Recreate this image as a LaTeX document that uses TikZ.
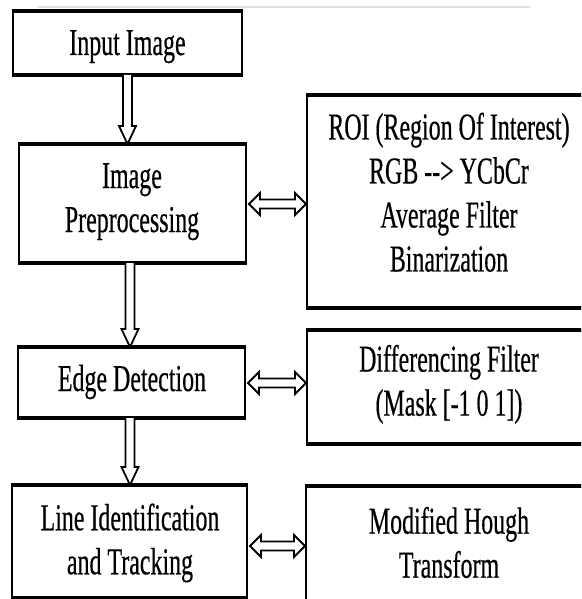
\documentclass[tikz,border=0pt]{standalone}
\usepackage{fontspec}
\newfontfamily\dfont{Liberation Serif}[FakeStretch=0.63,FakeBold=0.4]
\usetikzlibrary{calc,fit}
\tikzset{
  boxframe/.style={draw=black, line width=2pt, inner sep=0pt, fill=white},
  lbl/.style={font=\dfont\fontsize{38}{44}\selectfont, align=center, inner sep=0pt, text=black},
  blk/.style={draw=black, line width=1.8pt, fill=white, line join=miter},
  hedge/.style={draw=black, line width=3.2pt},
  faint/.style={draw=black!12, line width=1.5pt},
}
\newcommand\vblk[3]{%
  \draw[blk] ($(#3,0 |- #1.south)+(-4.5,0)$) -- ($(#3,0 |- #2.north)+(-4.5,-18)$)
    -- ($(#3,0 |- #2.north)+(-8.5,-18)$) -- (#3,0 |- #2.north)
    -- ($(#3,0 |- #2.north)+(8.5,-18)$) -- ($(#3,0 |- #2.north)+(4.5,-18)$)
    -- ($(#3,0 |- #1.south)+(4.5,0)$);}
\newcommand\hblk[3]{%
  \draw[blk] ($(#1.east |- 0,#3)+(2,0)$) -- ++(11,-11) -- ++(0,6.5)
    -- ($(#2.west |- 0,#3)+(-11,-4.5)$) -- ++(0,-6.5) -- (#2.west |- 0,#3)
    -- ++(-11,11) -- ++(0,-6.5) -- ($(#1.east |- 0,#3)+(13,4.5)$) -- ++(0,6.5) -- cycle;}
\begin{document}
\begin{tikzpicture}[x=1pt,y=-1pt]
\clip (0,0) rectangle (581,599);
\fill[white] (0,0) rectangle (581,599);
\coordinate (fa) at (38,7);
\coordinate (fb) at (530,7);
\draw[faint] (fa) -- (fb);
% boxes
\node[boxframe, fit={(13,12) (242,74)}] (in) {};
\node[boxframe, fit={(19,145) (246,262)}] (pre) {};
\node[boxframe, fit={(18,348) (245,417)}] (edge) {};
\node[boxframe, fit={(12,486) (247,597)}] (line) {};
\node[boxframe, fit={(307,96) (620,307)}] (roi) {};
\node[boxframe, fit={(307,331) (620,443)}] (diff) {};
\node[boxframe, fit={(306,487) (620,600)}] (hough) {};
\foreach \b in {in,pre,edge,line,roi,diff,hough}
  \draw[hedge] (\b.north west) -- (\b.north east) (\b.south west) -- (\b.south east);
% texts
\node[lbl, anchor=base] (tin) at (127.5,55) {Input Image};
\node[lbl] (tpre) at (132,201.7) {Image\\Preprocessing};
\node[lbl] (troi) at (449,192.3) {ROI (Region Of Interest)\\RGB {-}{-}> YCbCr\\Average Filter\\Binarization};
\node[lbl, anchor=base] (tedge) at (132,391) {Edge Detection};
\node[lbl] (tdiff) at (449,384.3) {Differencing Filter\\(Mask [-1 0 1])};
\node[lbl] (tline) at (130,543) {Line Identification\\and Tracking};
\node[lbl] (though) at (449,542.5) {Modified Hough\\Transform};
% arrows
\vblk{in}{pre}{127.5}
\vblk{pre}{edge}{130}
\vblk{edge}{line}{130}
\hblk{pre}{roi}{204}
\hblk{edge}{diff}{383}
\hblk{line}{hough}{546}
\end{tikzpicture}
\end{document}
